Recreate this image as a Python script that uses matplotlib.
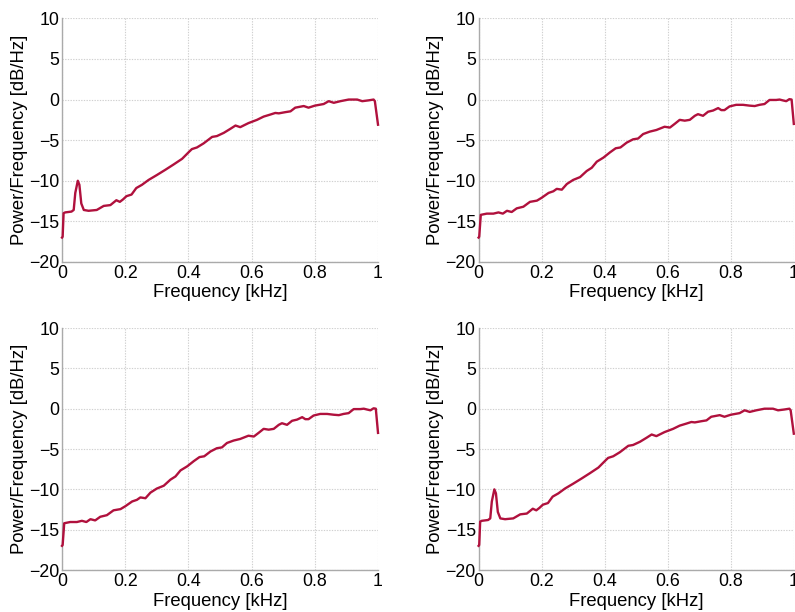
# plot.py
# 四个子图的功率谱密度曲线（MATLAB风格）

import matplotlib
matplotlib.use('Agg')
import matplotlib.pyplot as plt

plt.rcParams['font.family'] = ['Liberation Sans', 'DejaVu Sans']

# -----------------数据
# 带 50 Hz 尖峰的曲线（左上、右下）
freq_peak = [0.0, 0.002, 0.005, 0.01, 0.03, 0.037, 0.042, 0.05, 0.055, 0.061,
             0.069, 0.084, 0.11, 0.132, 0.153, 0.172, 0.183, 0.193, 0.204, 0.22,
             0.235, 0.253, 0.274, 0.30, 0.327, 0.353, 0.38, 0.403, 0.411, 0.427,
             0.448, 0.475, 0.49, 0.512, 0.533, 0.549, 0.564, 0.59, 0.617, 0.638,
             0.659, 0.675, 0.686, 0.707, 0.723, 0.738, 0.765, 0.78, 0.80, 0.828,
             0.844, 0.86, 0.881, 0.907, 0.934, 0.95, 0.97, 0.986, 0.99, 1.0]
psd_peak = [-17.0, -16.9, -14.0, -13.9, -13.8, -13.6, -11.5, -10.0, -10.5, -12.8,
            -13.6, -13.7, -13.6, -13.1, -13.0, -12.4, -12.6, -12.3, -11.9, -11.7,
            -10.9, -10.5, -9.9, -9.3, -8.65, -8.0, -7.3, -6.4, -6.1, -5.9,
            -5.4, -4.6, -4.5, -4.1, -3.6, -3.2, -3.4, -2.9, -2.5, -2.1,
            -1.85, -1.65, -1.7, -1.55, -1.45, -1.0, -0.8, -1.0, -0.75, -0.55,
            -0.2, -0.4, -0.2, 0.0, 0.0, -0.2, -0.1, 0.0, -0.2, -3.1]

# 无尖峰的曲线（右上、左下）
freq_flat = [0.0, 0.002, 0.007, 0.026, 0.047, 0.063, 0.077, 0.09, 0.105, 0.121,
             0.142, 0.163, 0.185, 0.2, 0.222, 0.237, 0.248, 0.264, 0.28, 0.30,
             0.322, 0.343, 0.359, 0.375, 0.396, 0.417, 0.435, 0.45, 0.47, 0.49,
             0.506, 0.522, 0.543, 0.564, 0.59, 0.607, 0.622, 0.638, 0.654, 0.67,
             0.686, 0.696, 0.712, 0.728, 0.744, 0.76, 0.77, 0.78, 0.796, 0.817,
             0.839, 0.86, 0.876, 0.891, 0.907, 0.923, 0.944, 0.955, 0.965, 0.976,
             0.986, 0.993, 1.0]
psd_flat = [-17.0, -16.9, -14.2, -14.05, -14.05, -13.9, -14.05, -13.7, -13.85, -13.4,
            -13.2, -12.6, -12.45, -12.1, -11.5, -11.3, -11.0, -11.1, -10.4, -9.9,
            -9.55, -8.8, -8.4, -7.65, -7.15, -6.5, -6.0, -5.9, -5.3, -4.9,
            -4.8, -4.25, -3.95, -3.75, -3.35, -3.45, -3.0, -2.5, -2.6, -2.5,
            -2.0, -1.8, -2.0, -1.5, -1.35, -1.05, -1.3, -1.3, -0.85, -0.65,
            -0.65, -0.75, -0.8, -0.65, -0.55, -0.05, -0.05, 0.0, -0.1, -0.2,
            0.05, 0.0, -3.0]

x_ticks = [0, 0.2, 0.4, 0.6, 0.8, 1]
x_ticklabels = ['0', '0.2', '0.4', '0.6', '0.8', '1']
y_ticks = [-20, -15, -10, -5, 0, 5, 10]

LINE_COLOR = '#b0113d'
TICK_SIZE = 12.8
LABEL_SIZE = 13.3

# -----------------绘图
fig = plt.figure(figsize=(7.95, 6.12), dpi=100, facecolor='white')

# [left, bottom, width, height]
boxes = [
    [0.078, 0.572, 0.3975, 0.398],
    [0.602, 0.572, 0.3965, 0.398],
    [0.078, 0.0686, 0.3975, 0.3954],
    [0.602, 0.0686, 0.3965, 0.3954],
]
curves = [
    (freq_peak, psd_peak),
    (freq_flat, psd_flat),
    (freq_flat, psd_flat),
    (freq_peak, psd_peak),
]

for box, (f, p) in zip(boxes, curves):
    ax = fig.add_axes(box)
    ax.plot(f, p, color=LINE_COLOR, linewidth=1.7, clip_on=False, zorder=3)
    ax.set_xlim(0, 1)
    ax.set_ylim(-20, 10)
    ax.set_xticks(x_ticks)
    ax.set_xticklabels(x_ticklabels)
    ax.set_yticks(y_ticks)
    ax.grid(True, color='#d0d0d0', linestyle=(0, (1.2, 1.2)), linewidth=0.8)
    ax.spines['top'].set_visible(False)
    ax.spines['right'].set_visible(False)
    for s in ('left', 'bottom'):
        ax.spines[s].set_color('#aaaaaa')
        ax.spines[s].set_linewidth(1.0)
    ax.tick_params(length=0, pad=2, labelsize=TICK_SIZE, colors='black')
    ax.set_xlabel('Frequency [kHz]', fontsize=LABEL_SIZE, labelpad=2)
    ax.set_ylabel('Power/Frequency [dB/Hz]', fontsize=LABEL_SIZE, labelpad=1)

fig.savefig('out.png', dpi=100, facecolor='white')
